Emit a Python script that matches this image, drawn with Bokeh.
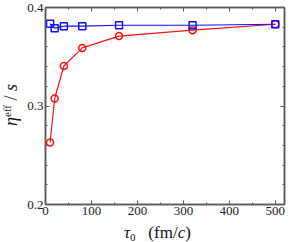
from bokeh.plotting import figure
from bokeh.models import Range1d, LinearAxis, FixedTicker, CustomJSTickFormatter, Div
from bokeh.layouts import row, column
from bokeh.embed import file_html
from bokeh.resources import INLINE

# ---- data ----
tau0 = [10, 20, 40, 80, 160, 320, 500]
eta_blue = [0.3835, 0.379, 0.381, 0.381, 0.382, 0.382, 0.383]
eta_red = [0.263, 0.3076, 0.3406, 0.359, 0.371, 0.377, 0.383]
x_ticks = [0, 100, 200, 300, 400, 500]
x_minor = [0, 50, 100, 150, 200, 250, 300, 350, 400, 450, 500]
y_ticks = [0.2, 0.3, 0.4]
y_minor = [0.2, 0.22, 0.24, 0.26, 0.28, 0.3, 0.32, 0.34, 0.36, 0.38, 0.4]

FONT = "Liberation Serif"
AXC = "#5a5a5a"

p = figure(width=269, height=221, output_backend="svg", toolbar_location=None,
           x_range=Range1d(0, 520), y_range=Range1d(0.2, 0.4),
           min_border_left=20, min_border_right=9, min_border_top=7,
           min_border_bottom=17, x_axis_type=None, y_axis_type=None)
p.grid.visible = False
p.outline_line_color = AXC
p.outline_line_width = 1.5

xt = FixedTicker(ticks=x_ticks, minor_ticks=x_minor)
yt = FixedTicker(ticks=y_ticks, minor_ticks=y_minor)
blank = CustomJSTickFormatter(code="return ''")


def style(ax, labels=True):
    ax.axis_line_color = AXC
    ax.axis_line_width = 1.5
    ax.major_tick_line_color = AXC
    ax.minor_tick_line_color = AXC
    ax.major_tick_in = 4
    ax.major_tick_out = 0
    ax.minor_tick_in = 2
    ax.minor_tick_out = 0
    ax.major_label_text_font = FONT
    ax.major_label_text_font_size = "13px"
    ax.major_label_text_color = "#222222"
    ax.major_label_standoff = 2
    if not labels:
        ax.formatter = blank
        ax.major_label_standoff = 0


xb = LinearAxis(ticker=xt)
style(xb)
p.add_layout(xb, "below")
xa = LinearAxis(ticker=xt)
style(xa, False)
p.add_layout(xa, "above")
yl = LinearAxis(ticker=yt)
style(yl)
p.add_layout(yl, "left")
yr = LinearAxis(ticker=yt)
style(yr, False)
p.add_layout(yr, "right")

# red series (circles)
p.line(tau0, eta_red, line_color="#ff1010", line_width=1.2)
p.scatter(tau0, eta_red, marker="circle", size=7, fill_color=None,
          line_color="#ff1010", line_width=1.5)
# blue series (squares)
p.line(tau0, eta_blue, line_color="#1010ff", line_width=1.2)
p.scatter(tau0, eta_blue, marker="square", size=7, fill_color=None,
          line_color="#1010ff", line_width=1.5)

# ---- axis labels as HTML text ----
ylab = Div(
    width=14, height=221,
    text=("<div style=\"writing-mode:vertical-rl;transform:rotate(180deg);"
          "font-family:'Liberation Serif';font-size:18px;color:#111;"
          "height:200px;width:20px;margin-left:-3px;display:flex;"
          "justify-content:center;align-items:center;white-space:nowrap;\">"
          "<i>&eta;</i><span style=\"font-size:11px;position:relative;left:4px;\">eff</span>"
          "&nbsp;/&nbsp;<i>s</i></div>"),
    styles={"overflow": "visible"},
)

xlab = Div(
    width=283, height=5,
    text=("<div style=\"font-family:'Liberation Serif';font-size:17px;color:#111;"
          "line-height:14px;position:relative;top:-10px;padding-left:119px;"
          "white-space:nowrap;\">"
          "<i>&tau;</i><span style=\"font-size:11px;position:relative;top:3px;\">0</span>"
          "&nbsp;&nbsp;&nbsp;(fm/<i>c</i>)</div>"),
    styles={"overflow": "visible"},
)

layout = column(row(ylab, p), xlab)

open("out.html", "w").write(file_html(layout, INLINE))
